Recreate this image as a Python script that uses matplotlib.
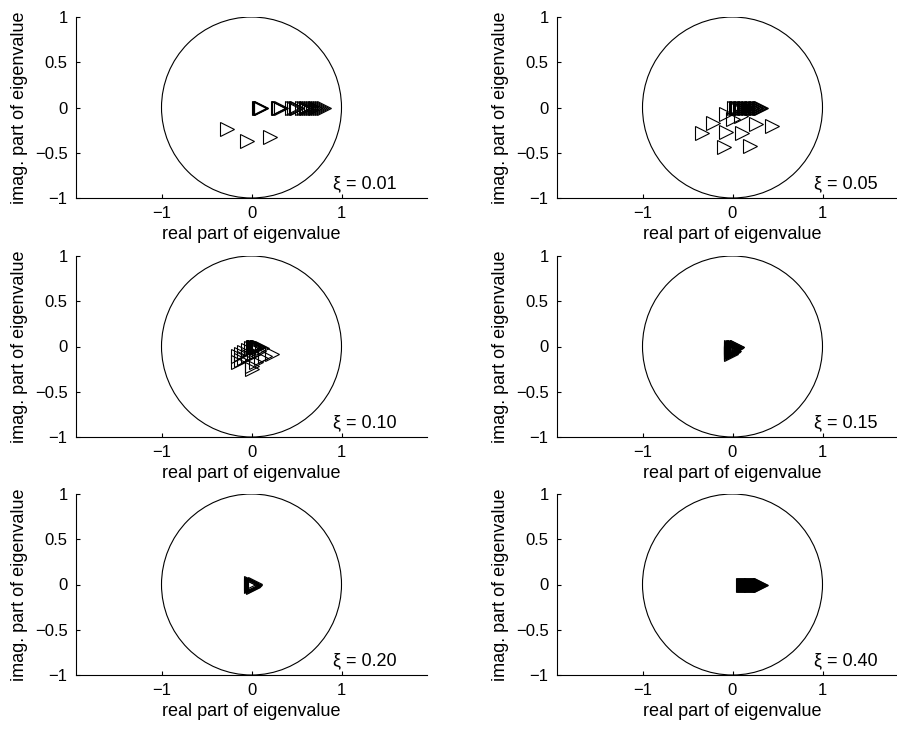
import matplotlib
matplotlib.use("Agg")
import matplotlib.pyplot as plt
from matplotlib.patches import Circle

plt.rcParams['font.family'] = ['Liberation Sans', 'DejaVu Sans']

# eigenvalues, one pair of lists per damping value
xi_labels = ['0.01', '0.05', '0.10', '0.15', '0.20', '0.40']

re_001 = [0.08, 0.09, 0.10, 0.11, 0.29, 0.30, 0.31, 0.325, 0.45, 0.47, 0.49,
          0.51, 0.56, 0.58, 0.60, 0.62, 0.64, 0.66, 0.68, 0.70, 0.72, 0.74,
          0.76, 0.78, 0.80, -0.27, -0.053, 0.21]
im_001 = [0.0] * 25 + [-0.236, -0.37, -0.33]

re_005 = [0.02, 0.035, 0.05, 0.065, 0.08, 0.095, 0.11, 0.125, 0.14, 0.155,
          0.17, 0.185, 0.20, 0.215, 0.23, 0.245, 0.26, 0.275, 0.29, 0.305,
          0.32, -0.07, -0.22, -0.34, 0.0, 0.09, -0.07, 0.11, 0.26, 0.435,
          -0.10, 0.19]
im_005 = [0.0] * 21 + [-0.074, -0.17, -0.28, -0.127, -0.09, -0.27, -0.28,
                       -0.18, -0.2, -0.435, -0.43]

re_010 = [-0.15, -0.15, -0.115, -0.115, -0.08, -0.08, -0.04, -0.04, -0.005,
          0.0, 0.0, 0.03, 0.03, 0.05, 0.06, 0.08, 0.10, 0.12, 0.15, 0.23,
          0.02, 0.03, 0.04, 0.05, 0.06, 0.07, 0.08]
im_010 = [-0.10, -0.17, -0.08, -0.15, -0.06, -0.13, -0.04, -0.11, -0.02,
          -0.21, -0.25, -0.01, -0.08, -0.17, 0.0, -0.05, -0.13, -0.02, -0.11,
          -0.08, 0.0, -0.01, 0.0, -0.02, -0.01, 0.0, -0.01]

re_015 = [0.05, 0.045, 0.04, 0.03, 0.02, 0.01, 0.0, -0.005, -0.01, -0.015,
          -0.02, -0.015, 0.0, -0.01, 0.02, 0.01, 0.0, -0.01, 0.01, 0.0,
          0.03, 0.02, -0.02, -0.02]
im_015 = [0.0, -0.01, -0.015, -0.02, -0.03, -0.035, -0.04, -0.05, -0.055,
          -0.06, -0.07, -0.08, -0.015, -0.02, -0.005, 0.0, -0.03, -0.035,
          -0.05, -0.065, -0.005, -0.045, -0.03, -0.005]

re_020 = [0.0, 0.01, 0.02, 0.03, -0.01, 0.01, 0.04, 0.02, -0.005, 0.035]
im_020 = [0.0, -0.01, 0.0, -0.02, -0.02, 0.01, -0.01, -0.03, 0.015, 0.005]

re_040 = [0.12, 0.13, 0.14, 0.15, 0.16, 0.17, 0.18, 0.19, 0.20, 0.21, 0.22,
          0.23, 0.24, 0.25, 0.26, 0.27, 0.28, 0.29, 0.30, 0.31, 0.32]
im_040 = [0.0] * 21

series = [(re_001, im_001), (re_005, im_005), (re_010, im_010),
          (re_015, im_015), (re_020, im_020), (re_040, im_040)]

W, H = 897, 730
fig = plt.figure(figsize=(W / 100, H / 100), dpi=100)

lefts = [76, 557]
tops = [17, 256, 494]
aw, ah = 351, 181

for k, (re, im) in enumerate(series):
    row, col = divmod(k, 2)
    ax = fig.add_axes([lefts[col] / W, 1 - (tops[row] + ah) / H, aw / W, ah / H])
    ax.add_patch(Circle((0, 0), 1, fill=False, color='k', lw=0.8))
    ax.plot(re, im, ls='none', marker='>', ms=9.5, mfc='none', mec='k', mew=0.8)
    ax.set_xlim(-1.95, 1.95)
    ax.set_ylim(-1, 1)
    ax.set_xticks([-1, 0, 1])
    ax.set_yticks([-1, -0.5, 0, 0.5, 1])
    ax.set_yticklabels(['\u22121', '\u22120.5', '0', '0.5', '1'])
    ax.spines['top'].set_visible(False)
    ax.spines['right'].set_visible(False)
    ax.spines['left'].set_linewidth(0.8)
    ax.spines['bottom'].set_linewidth(0.8)
    ax.tick_params(direction='in', length=3, width=0.8, labelsize=12, pad=6)
    ax.set_xlabel('real part of eigenvalue', fontsize=13, labelpad=3)
    ax.set_ylabel('imag. part of eigenvalue', fontsize=13, labelpad=5)
    ax.text(0.9, -0.84, '\u03be = ' + xi_labels[k], fontsize=13,
            ha='left', va='center')

fig.savefig('out.png', dpi=100)
